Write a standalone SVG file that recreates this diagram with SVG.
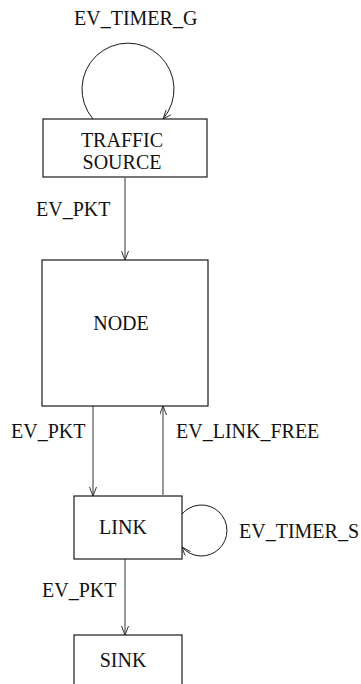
<svg xmlns="http://www.w3.org/2000/svg" width="361" height="684" viewBox="0 0 361 684">
  <style>
    .box { fill: #ffffff; stroke: #1a1a1a; stroke-width: 1.2; }
    .edge { fill: none; stroke: #555555; stroke-width: 1.2; marker-end: url(#arrow); }
    .loop { fill: none; stroke: #1a1a1a; stroke-width: 1; marker-end: url(#arrow); }
    .c { text-anchor: middle; }
  </style>
  <defs>
    <marker id="arrow" markerUnits="userSpaceOnUse" markerWidth="10" markerHeight="8" refX="9" refY="3.5" orient="auto">
      <path d="M0,0 L9,3.5 L0,7" fill="none" stroke="#333333" stroke-width="1"/>
    </marker>
  </defs>
  <rect width="361" height="684" fill="#ffffff"/>

  <!-- connectors with their event labels -->
  <g id="connectors" font-family="Liberation Serif, serif" font-size="20" fill="#111111">
    <path class="loop" d="M93,119 A46,46 0 1 1 163,119"/>
    <text x="74" y="25">EV_TIMER_G</text>

    <line class="edge" x1="125" y1="178" x2="125" y2="260"/>
    <text x="36" y="216">EV_PKT</text>

    <line class="edge" x1="93" y1="406" x2="93" y2="496"/>
    <text x="11" y="438">EV_PKT</text>

    <line class="edge" x1="163" y1="495" x2="163" y2="406"/>
    <text x="176" y="438">EV_LINK_FREE</text>

    <path class="loop" d="M182,514 A25.5,25.5 0 1 1 182,547"/>
    <text x="239" y="538">EV_TIMER_S</text>

    <line class="edge" x1="125" y1="559" x2="125" y2="635"/>
    <text x="42" y="597">EV_PKT</text>
  </g>

  <!-- nodes -->
  <g id="traffic-source" font-family="Liberation Serif, serif" font-size="20" fill="#111111">
    <rect class="box" x="43" y="119" width="164" height="58"/>
    <text class="c" x="122" y="147">TRAFFIC</text>
    <text class="c" x="122" y="169">SOURCE</text>
  </g>
  <g id="node" font-family="Liberation Serif, serif" font-size="20" fill="#111111">
    <rect class="box" x="42" y="260" width="166" height="146"/>
    <text class="c" x="121" y="330">NODE</text>
  </g>
  <g id="link" font-family="Liberation Serif, serif" font-size="20" fill="#111111">
    <rect class="box" x="74" y="496" width="108" height="63"/>
    <text class="c" x="123" y="534">LINK</text>
  </g>
  <g id="sink" font-family="Liberation Serif, serif" font-size="20" fill="#111111">
    <rect class="box" x="74" y="635" width="108" height="70"/>
    <text class="c" x="123" y="667">SINK</text>
  </g>
</svg>
